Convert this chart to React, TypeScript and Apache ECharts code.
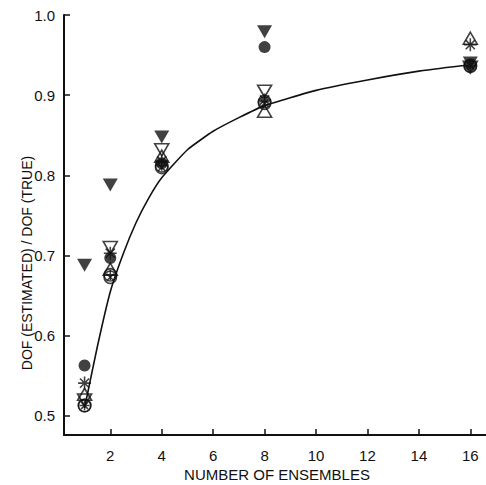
import React, { useEffect, useRef } from "react";
import * as echarts from "echarts";

// ---- data ----
const ensembles = [1, 2, 4, 8, 16];
const filledDown = [0.688, 0.788, 0.848, 0.979, 0.94];
const filledCircle = [0.563, 0.697, 0.815, 0.96, 0.938];
const asterisk = [0.541, 0.703, 0.818, 0.894, 0.963];
const openUp = [0.527, 0.683, 0.824, 0.88, 0.971];
const openDown = [0.52, 0.71, 0.832, 0.905, 0.935];
const circleX = [0.513, 0.673, 0.81, 0.89, 0.937];
const circlePlus = [0.513, 0.676, 0.812, 0.892, 0.936];

const curveX = [1, 1.5, 2, 2.5, 3, 3.5, 4, 5, 6, 7, 8, 10, 12, 14, 16];
const curveY = [0.51, 0.587, 0.655, 0.702, 0.741, 0.772, 0.797, 0.832, 0.855, 0.872, 0.887, 0.906, 0.919, 0.93, 0.938];

const xTicks = [2, 4, 6, 8, 10, 12, 14, 16];
const yTicks = [0.5, 0.6, 0.7, 0.8, 0.9, 1.0];

const xTitle = "NUMBER OF ENSEMBLES";
const yTitle = "DOF (ESTIMATED) / DOF (TRUE)";

// ---- symbol helpers (style only) ----
function bar(angleDeg: number, half: number, w: number): string {
  const a = (angleDeg * Math.PI) / 180;
  const ux = Math.cos(a), uy = Math.sin(a);
  const px = -uy, py = ux;
  const pts = [
    [ux * half + px * w, uy * half + py * w],
    [ux * half - px * w, uy * half - py * w],
    [-ux * half - px * w, -uy * half - py * w],
    [-ux * half + px * w, -uy * half + py * w],
  ];
  return (
    "M" + pts.map((p) => p[0].toFixed(3) + " " + p[1].toFixed(3)).join(" L") + " Z"
  );
}
function ring(r1: number, r2: number): string {
  return (
    `M0 ${-r1} A${r1} ${r1} 0 1 1 0 ${r1} A${r1} ${r1} 0 1 1 0 ${-r1} Z ` +
    `M0 ${-r2} A${r2} ${r2} 0 1 0 0 ${r2} A${r2} ${r2} 0 1 0 0 ${-r2} Z`
  );
}
const asteriskPath = "path://" + [0, 45, 90, 135].map((a) => bar(a, 10, 1.2)).join(" ");
const circleXPath = "path://" + ring(10, 7.8) + " " + [45, 135].map((a) => bar(a, 7.2, 1.1)).join(" ");
const circlePlusPath = "path://" + ring(10, 7.8) + " " + [0, 90].map((a) => bar(a, 7.2, 1.1)).join(" ");

const pair = (ys: number[]) => ensembles.map((x, i) => [x, ys[i]]);

export default function App() {
  const ref = useRef<HTMLDivElement>(null);
  useEffect(() => {
    if (!ref.current) return;
    const chart = echarts.init(ref.current, null, { renderer: "svg" });
    const ink = "#111";
    const font = "Liberation Sans, Arial, sans-serif";
    const openStyle = { color: "transparent", borderColor: ink, borderWidth: 1.6 };
    const filledStyle = { color: ink };
    chart.setOption({
      animation: false,
      backgroundColor: "#ffffff",
      grid: { left: 64, right: 0, top: 15, bottom: 50 },
      xAxis: {
        type: "value",
        min: 0.2,
        max: 16.61,
        splitLine: { show: false },
        axisLine: { lineStyle: { color: ink, width: 2 } },
        axisTick: { inside: true, length: 6, lineStyle: { color: ink, width: 1.5 }, customValues: xTicks },
        axisLabel: { customValues: xTicks, color: ink, fontSize: 15, fontFamily: font, margin: 13 },
      },
      yAxis: {
        type: "value",
        min: 0.4763,
        max: 1.0,
        splitLine: { show: false },
        axisLine: { lineStyle: { color: ink, width: 2 } },
        axisTick: { inside: true, length: 6, lineStyle: { color: ink, width: 1.5 }, customValues: yTicks },
        axisLabel: {
          customValues: yTicks,
          color: ink,
          fontSize: 15,
          fontFamily: font,
          margin: 9,
          formatter: (v: number) => v.toFixed(1),
        },
      },
      graphic: [
        {
          type: "text",
          x: 27,
          y: 263,
          rotation: Math.PI / 2,
          style: {
            text: yTitle,
            fill: ink,
            fontSize: 14,
            fontFamily: font,
            textAlign: "center",
            textVerticalAlign: "middle",
          },
        },
        {
          type: "text",
          x: 277,
          y: 474,
          style: {
            text: xTitle,
            fill: ink,
            fontSize: 15,
            fontFamily: font,
            textAlign: "center",
            textVerticalAlign: "middle",
          },
        },
      ],
      series: [
        {
          type: "line",
          data: curveX.map((x, i) => [x, curveY[i]]),
          smooth: 0.15,
          showSymbol: false,
          lineStyle: { color: ink, width: 1.6 },
          z: 1,
        },
        { type: "scatter", data: pair(openUp), symbol: "triangle", symbolSize: [14, 12], itemStyle: openStyle, z: 2 },
        { type: "scatter", data: pair(openDown), symbol: "triangle", symbolRotate: 180, symbolSize: [14, 12], itemStyle: openStyle, z: 2 },
        { type: "scatter", data: pair(circlePlus), symbol: circlePlusPath, symbolSize: 14, itemStyle: filledStyle, z: 3 },
        { type: "scatter", data: pair(circleX), symbol: circleXPath, symbolSize: 14, itemStyle: filledStyle, z: 3 },
        { type: "scatter", data: pair(asterisk), symbol: asteriskPath, symbolSize: 13, itemStyle: filledStyle, z: 4 },
        { type: "scatter", data: pair(filledCircle), symbol: "circle", symbolSize: 12, itemStyle: filledStyle, z: 4 },
        { type: "scatter", data: pair(filledDown), symbol: "triangle", symbolRotate: 180, symbolSize: [15, 13], itemStyle: filledStyle, z: 4 },
      ],
    });
    return () => chart.dispose();
  }, []);
  return (
    <div
      ref={ref}
      style={{ position: "fixed", left: 0, top: 0, width: 486, height: 485 }}
    />
  );
}
